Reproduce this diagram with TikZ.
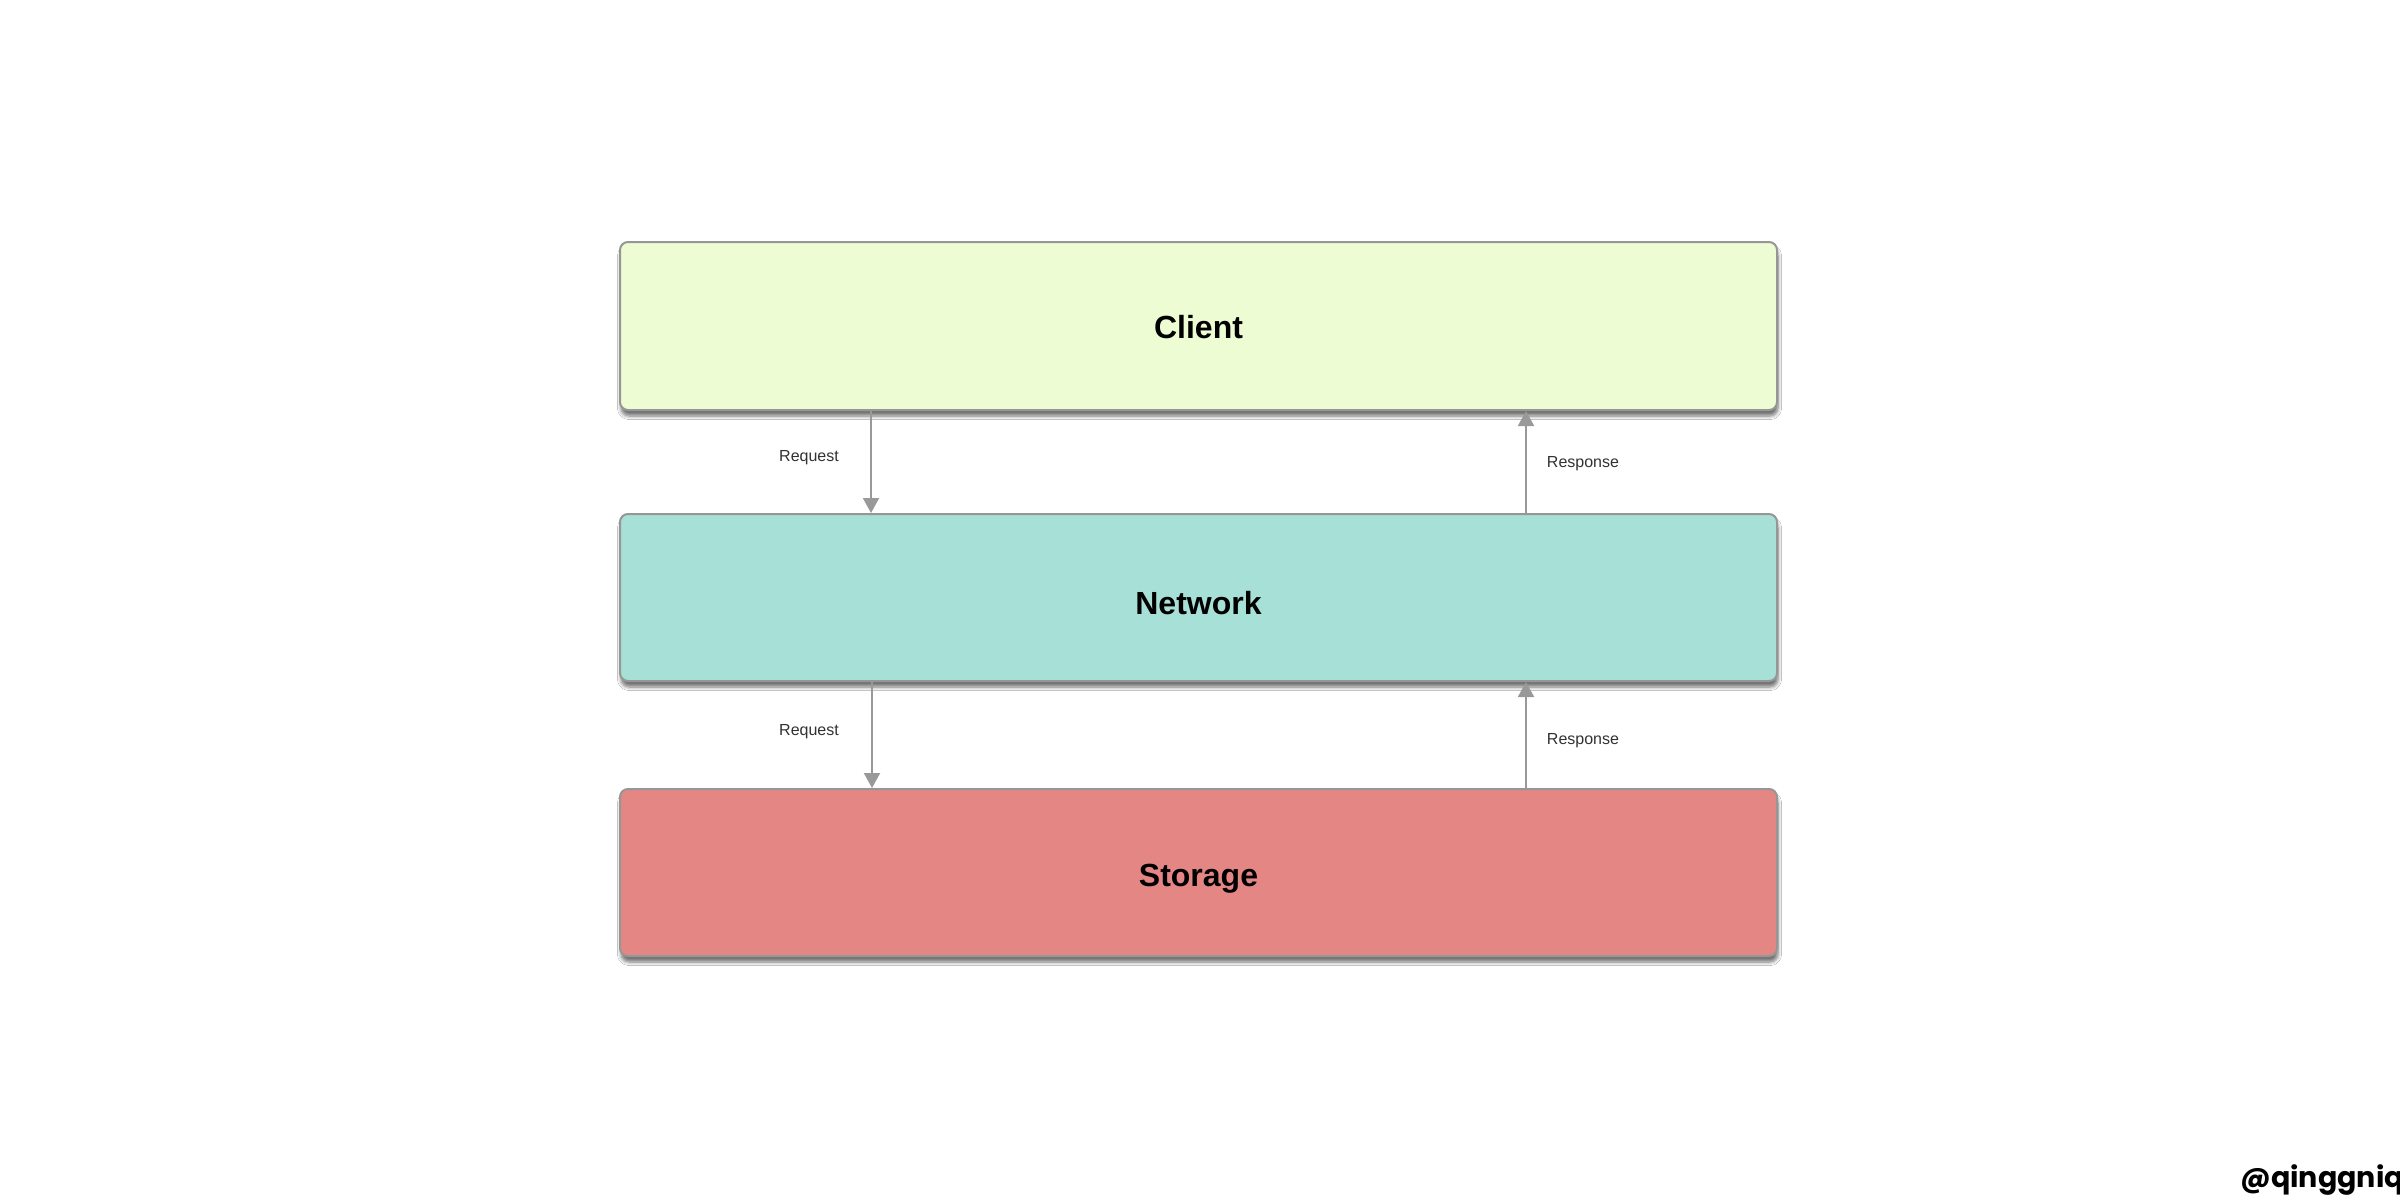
\documentclass[tikz,border=0pt]{standalone}
\usepackage{fontspec}
\setmainfont{Liberation Sans}
\newfontfamily\wmfont{Poppins}
\usetikzlibrary{arrows.meta,shadows.blur}
\definecolor{clientc}{RGB}{237,252,211}
\definecolor{networkc}{RGB}{167,224,214}
\definecolor{storagec}{RGB}{228,135,132}
\definecolor{edgec}{RGB}{150,150,150}
\definecolor{arrc}{RGB}{153,153,153}
\definecolor{lblc}{RGB}{50,50,50}
\tikzset{
  layer/.style={draw=edgec, line width=2pt, rounded corners=8pt, minimum width=1157pt,
    inner sep=0pt, text height=23pt, text depth=0pt, font=\fontsize{32}{38}\selectfont\bfseries,
    blur shadow={shadow xshift=1pt, shadow yshift=-6pt, shadow opacity=55, shadow blur radius=3.5pt, shadow blur steps=6}},
  flow/.style={draw=arrc, line width=2pt, -{Triangle[length=15pt,width=16pt]}},
  lbl/.style={font=\fontsize{16}{19}\selectfont, text=lblc, inner sep=0pt}
}
\begin{document}
\begin{tikzpicture}[x=1pt,y=-1pt]
\useasboundingbox (0,0) rectangle (2400,1202);
\fill[white] (0,0) rectangle (2400,1202);
\node[layer, fill=clientc, minimum height=168pt] (client) at (1198.5,326) {\raisebox{-0.5pt}{Client}};
\node[layer, fill=networkc, minimum height=167pt] (network) at (1198.5,597.5) {\raisebox{-5pt}{Network}};
\node[layer, fill=storagec, minimum height=167pt] (storage) at (1198.5,872.5) {\raisebox{-2pt}{Storage}};
\coordinate (r1) at (871,0);
\coordinate (r2) at (872,0);
\coordinate (s1) at (1526,0);
\draw[flow] (client.south -| r1) -- (network.north -| r1);
\draw[flow] (network.north -| s1) -- (client.south -| s1);
\draw[flow] (network.south -| r2) -- (storage.north -| r2);
\draw[flow] (storage.north -| s1) -- (network.south -| s1);
\node[lbl] (req1) at (809,458) {Request};
\node[lbl] (res1) at (1583,464) {Response};
\node[lbl] (req2) at (809,732) {Request};
\node[lbl] (res2) at (1583,741) {Response};
\node[anchor=base east, inner sep=0pt, font=\wmfont\fontsize{28.5}{32}\selectfont\bfseries] (wm) at (2404,1187) {@qinggniq};
\end{tikzpicture}
\end{document}
